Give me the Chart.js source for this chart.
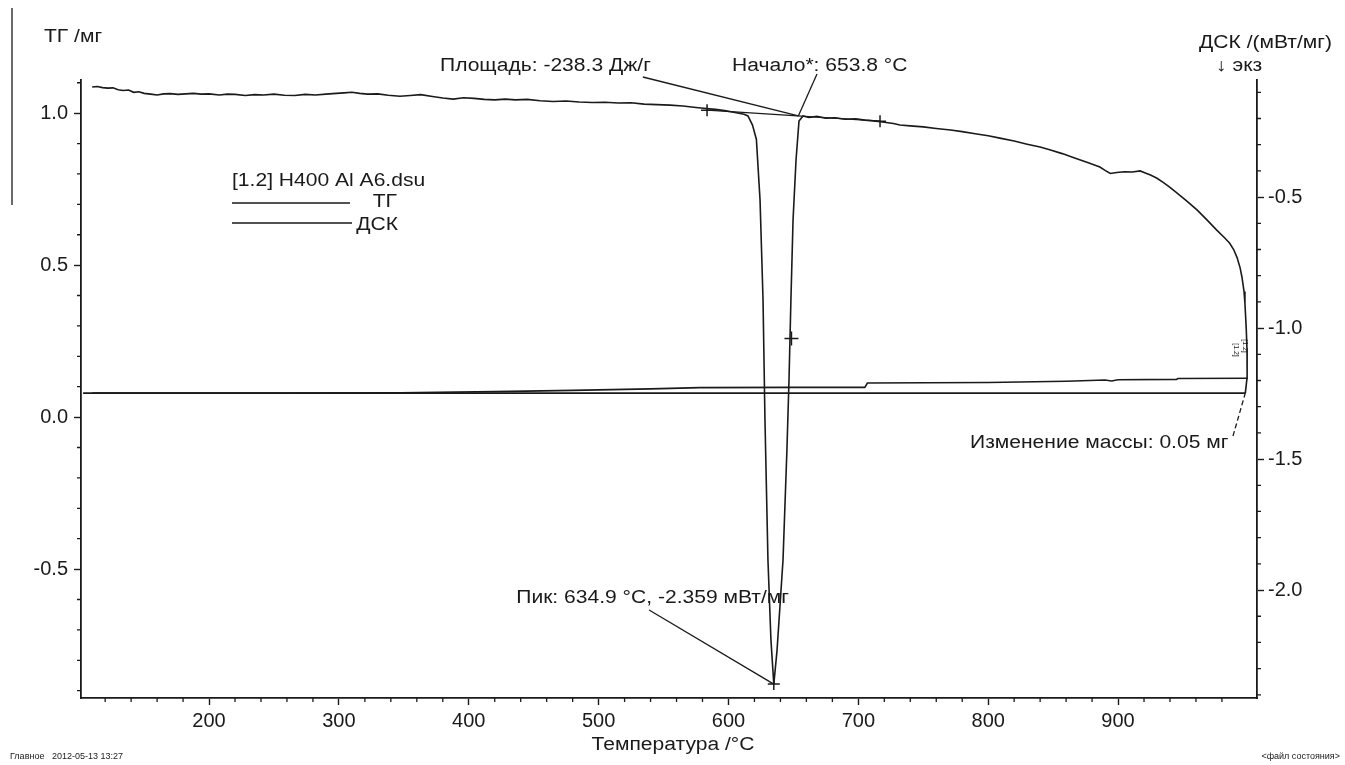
<!DOCTYPE html>
<html lang="ru">
<head>
<meta charset="UTF-8">
<title>ТГ / ДСК — H400 Al A6</title>
<script src="https://cdn.jsdelivr.net/npm/chart.js@4.4.1/dist/chart.umd.min.js"></script>
<style>
  html, body { margin: 0; padding: 0; background: #fff; }
  #wrap { position: relative; width: 1345px; height: 765px; }
</style>
</head>
<body>
<div id="wrap"><canvas id="tgDsc"></canvas></div>
<script>
// DSC signal, mW/mg (right axis)
const dscTemp = [110, 114, 118, 122, 126, 130, 134, 138, 142, 146, 150, 155, 160, 165, 170, 176, 182, 188, 194, 200,
  208, 214, 220, 228, 235, 242, 250, 258, 266, 274, 282, 290, 298, 304, 310, 316, 322, 330, 338, 347,
  355, 363, 372, 380, 388, 396, 404, 412, 420, 428, 436, 445, 455, 465, 475, 485, 495, 505, 515, 525,
  535, 545, 555, 565, 575, 583, 590, 597, 603, 608, 612, 615, 618.5, 621.5, 624.3, 626.6, 628.1, 630.4, 632.7, 634.9,
  637.4, 642, 645, 646.6, 648.1, 649.7, 652, 654.3, 657.4, 662, 668, 675, 682, 690, 698, 705, 712, 720, 727, 732,
  740, 750, 760, 771, 780, 790, 800, 809, 820, 830, 840, 848, 857, 866, 876, 886, 890, 894, 899, 905,
  911, 917, 921, 925, 930, 935, 940, 945.5, 953, 961, 969, 976, 982, 986, 989, 991.6, 994, 995.4, 997, 997.7,
  998.7, 999.3, 999.4, 998];
const dscValue = [-0.080, -0.078, -0.082, -0.084, -0.083, -0.090, -0.093, -0.091, -0.100, -0.098, -0.104, -0.107, -0.110, -0.106, -0.105, -0.108, -0.106, -0.104, -0.107, -0.106,
  -0.110, -0.107, -0.108, -0.112, -0.109, -0.110, -0.107, -0.111, -0.112, -0.108, -0.110, -0.107, -0.104, -0.102, -0.100, -0.104, -0.107, -0.106, -0.111, -0.115,
  -0.112, -0.109, -0.116, -0.122, -0.126, -0.121, -0.123, -0.127, -0.129, -0.126, -0.129, -0.127, -0.132, -0.135, -0.133, -0.137, -0.139, -0.138, -0.141, -0.140,
  -0.145, -0.147, -0.149, -0.152, -0.158, -0.162, -0.165, -0.170, -0.175, -0.180, -0.184, -0.190, -0.225, -0.280, -0.510, -0.890, -1.350, -1.885, -2.190, -2.359,
  -2.230, -1.885, -1.466, -1.200, -0.890, -0.590, -0.360, -0.210, -0.190, -0.196, -0.192, -0.199, -0.197, -0.203, -0.201, -0.206, -0.209, -0.214, -0.219, -0.225,
  -0.228, -0.232, -0.238, -0.244, -0.250, -0.258, -0.266, -0.275, -0.286, -0.298, -0.309, -0.320, -0.334, -0.350, -0.367, -0.385, -0.398, -0.410, -0.406, -0.403,
  -0.404, -0.400, -0.408, -0.416, -0.428, -0.445, -0.463, -0.485, -0.515, -0.550, -0.590, -0.626, -0.655, -0.676, -0.700, -0.730, -0.770, -0.805, -0.860, -0.905,
  -1.000, -1.084, -1.187, -1.248];

// TG signal, mg (left axis)
const tgTemp = [110, 250, 347, 420, 480, 540, 578, 650, 705, 707, 800, 860, 890, 895, 900, 945, 946, 1000];
const tgValue = [0.079, 0.079, 0.080, 0.084, 0.088, 0.093, 0.097, 0.098, 0.098, 0.112, 0.114, 0.118, 0.122, 0.119, 0.123, 0.124, 0.127, 0.128];

// evaluation results
const tgLevelTemp = [103, 998];
const tgLevel = 0.079;
const massChange = 0.05;
const areaBaseTemp = [583.5, 716.7];
const areaBaseValue = [-0.168, -0.210];
const areaValue = -238.3;
const onsetTemp = 653.8;
const peakTemp = 634.9;
const peakValue = -2.359;
const halfMarkTemp = 648.5;
const halfMarkValue = -1.04;

// axis ranges and labelled ticks
const tempRange = [101.4, 1007];
const tgRange = [-0.924, 1.109];
const dscRange = [-2.412, -0.053];
const tempLabels = [200, 300, 400, 500, 600, 700, 800, 900];
const tgLabels = [-0.5, 0.0, 0.5, 1.0];
const dscLabels = [-2.0, -1.5, -1.0, -0.5];

const ink = '#1a1a1a';
const fontFamily = '"Liberation Sans", Arial, sans-serif';
const stretch = 1.17;

function pts(xs, ys) {
  return xs.map((x, i) => ({ x: x, y: ys[i] }));
}
function fixedTicks(list) {
  return s => { s.ticks = list.map(v => ({ value: v })); };
}
// text is set a little wider than the plain face
function wideText(ctx, text, x, y, align) {
  const w = ctx.measureText(text).width * stretch;
  const left = align === 'right' ? x - w : align === 'center' ? x - w / 2 : x;
  ctx.save();
  ctx.textAlign = 'left';
  ctx.translate(left, y);
  ctx.scale(stretch, 1);
  ctx.fillText(text, 0, 0);
  ctx.restore();
  return { left: left, right: left + w };
}

// baseline value under the onset point
const onsetValue = areaBaseValue[0] + (areaBaseValue[1] - areaBaseValue[0]) *
  (onsetTemp - areaBaseTemp[0]) / (areaBaseTemp[1] - areaBaseTemp[0]);

// minor ticks, titles, legend and evaluation labels
const overlay = {
  id: 'overlay',
  afterDraw(chart) {
    const ctx = chart.ctx;
    const sx = chart.scales.x, sy = chart.scales.y, sy1 = chart.scales.y1;
    const area = chart.chartArea;
    ctx.save();
    ctx.strokeStyle = ink;
    ctx.fillStyle = ink;
    ctx.lineWidth = 1.3;

    // frame line at the left edge of the sheet
    ctx.beginPath();
    ctx.moveTo(12, 8);
    ctx.lineTo(12, 205);
    ctx.stroke();

    // minor ticks
    ctx.beginPath();
    for (let t = 120; t < tempRange[1]; t += 20) {
      if (t % 100 === 0) continue;
      const px = sx.getPixelForValue(t);
      ctx.moveTo(px, area.bottom);
      ctx.lineTo(px, area.bottom + 4);
    }
    for (let v = -0.9; v < tgRange[1]; v += 0.1) {
      const r = Math.round(v * 10);
      if (r % 5 === 0) continue;
      const py = sy.getPixelForValue(r / 10);
      ctx.moveTo(area.left, py);
      ctx.lineTo(area.left - 4, py);
    }
    for (let v = -2.4; v < dscRange[1]; v += 0.1) {
      const r = Math.round(v * 10);
      if (r % 5 === 0) continue;
      const py = sy1.getPixelForValue(r / 10);
      ctx.moveTo(area.right, py);
      ctx.lineTo(area.right + 4, py);
    }
    ctx.stroke();

    ctx.font = '18px ' + fontFamily;
    ctx.textBaseline = 'middle';

    // axis titles
    wideText(ctx, 'ТГ /мг', 44, 37, 'left');
    wideText(ctx, 'ДСК /(мВт/мг)', 1332, 43, 'right');
    wideText(ctx, '↓ экз', 1216, 66, 'left');
    wideText(ctx, 'Температура /°C', 673, 745, 'center');

    // legend
    wideText(ctx, '[1.2] H400 Al A6.dsu', 232, 181, 'left');
    ctx.beginPath();
    ctx.moveTo(232, 203); ctx.lineTo(350, 203);
    ctx.moveTo(232, 223); ctx.lineTo(352, 223);
    ctx.stroke();
    wideText(ctx, 'ТГ', 397, 202, 'right');
    wideText(ctx, 'ДСК', 398, 225, 'right');

    // peak area and onset
    const onX = sx.getPixelForValue(onsetTemp), onY = sy1.getPixelForValue(onsetValue);
    const areaBox = wideText(ctx, 'Площадь: ' + areaValue.toFixed(1) + ' Дж/г', 440, 66, 'left');
    ctx.beginPath();
    ctx.moveTo(areaBox.right - 8, 77);
    ctx.lineTo(onX, onY);
    ctx.stroke();

    wideText(ctx, 'Начало*: ' + onsetTemp.toFixed(1) + ' °C', 732, 66, 'left');
    ctx.beginPath();
    ctx.moveTo(817, 74);
    ctx.lineTo(onX, onY);
    ctx.stroke();

    // peak
    const pkX = sx.getPixelForValue(peakTemp), pkY = sy1.getPixelForValue(peakValue);
    const peakHead = 'Пик: ' + peakTemp.toFixed(1) + ' °C,';
    const peakText = peakHead + ' ' + peakValue.toFixed(3) + ' мВт/мг';
    const peakBox = wideText(ctx, peakText, 789, 598, 'right');
    const commaX = peakBox.left + ctx.measureText(peakHead).width * stretch;
    ctx.beginPath();
    ctx.moveTo(commaX - 3, 610);
    ctx.lineTo(pkX, pkY);
    ctx.stroke();

    // mass change
    const mcX = sx.getPixelForValue(tgLevelTemp[1]), mcY = sy.getPixelForValue(tgLevel);
    wideText(ctx, 'Изменение массы: ' + massChange.toFixed(2) + ' мг', 970, 443, 'left');
    ctx.setLineDash([5, 3]);
    ctx.beginPath();
    ctx.moveTo(1233, 436);
    ctx.lineTo(mcX, mcY);
    ctx.stroke();
    ctx.setLineDash([]);

    // curve tags at the right end
    ctx.font = '7px ' + fontFamily;
    ctx.textAlign = 'center';
    [[1236, 350], [1245, 346]].forEach(p => {
      ctx.save();
      ctx.translate(p[0], p[1]);
      ctx.rotate(Math.PI / 2);
      ctx.fillText('[1.2]', 0, 0);
      ctx.restore();
    });

    // status line
    ctx.font = '9px ' + fontFamily;
    ctx.textAlign = 'left';
    ctx.fillText('Главное   2012-05-13 13:27', 10, 757);
    ctx.textAlign = 'right';
    ctx.fillText('<файл состояния>', 1340, 757);

    ctx.restore();
  }
};

const lineStyle = { borderColor: ink, borderWidth: 1.6, pointRadius: 0, tension: 0, fill: false };
const crossStyle = { borderColor: ink, borderWidth: 1.3, showLine: true, pointStyle: 'cross', pointRadius: 6,
  pointBorderColor: ink, pointBorderWidth: 1.5 };

function axis(pos, range, labels, digits, size) {
  return {
    type: 'linear',
    position: pos,
    min: range[0],
    max: range[1],
    afterBuildTicks: fixedTicks(labels),
    afterFit: size,
    border: { display: true, color: ink, width: 1.8 },
    grid: { drawOnChartArea: false, drawTicks: true, tickLength: 7, tickColor: ink, tickWidth: 1.4 },
    ticks: {
      autoSkip: false,
      maxRotation: 0,
      padding: pos === 'left' ? 6 : 4,
      color: ink,
      font: { family: fontFamily, size: 20 },
      callback: v => (Math.round(v * 10) / 10).toFixed(digits)
    }
  };
}

new Chart(document.getElementById('tgDsc'), {
  type: 'line',
  data: {
    datasets: [
      Object.assign({ label: 'ДСК', data: pts(dscTemp, dscValue), yAxisID: 'y1' }, lineStyle),
      Object.assign({ label: 'ТГ', data: pts(tgTemp, tgValue), yAxisID: 'y' }, lineStyle),
      Object.assign({ label: 'ТГ уровень', data: pts(tgLevelTemp, [tgLevel, tgLevel]), yAxisID: 'y' }, lineStyle),
      Object.assign({ label: 'базовая линия', data: pts(areaBaseTemp, areaBaseValue), yAxisID: 'y1' }, crossStyle),
      Object.assign({ label: 'пик', data: [{ x: peakTemp, y: peakValue }], yAxisID: 'y1' }, crossStyle),
      Object.assign({ label: 'полувысота', data: [{ x: halfMarkTemp, y: halfMarkValue }], yAxisID: 'y1' }, crossStyle,
        { pointRadius: 7 })
    ]
  },
  options: {
    responsive: true,
    maintainAspectRatio: false,
    animation: false,
    devicePixelRatio: 1,
    layout: { padding: { top: 80, left: 0, right: 0, bottom: 0 } },
    plugins: { legend: { display: false }, tooltip: { enabled: false } },
    scales: {
      x: axis('bottom', tempRange, tempLabels, 0, s => { s.height = 67; }),
      y: axis('left', tgRange, tgLabels, 1, s => { s.width = 81; }),
      y1: axis('right', dscRange, dscLabels, 1, s => { s.width = 88; })
    }
  },
  plugins: [overlay]
});
</script>
</body>
</html>
